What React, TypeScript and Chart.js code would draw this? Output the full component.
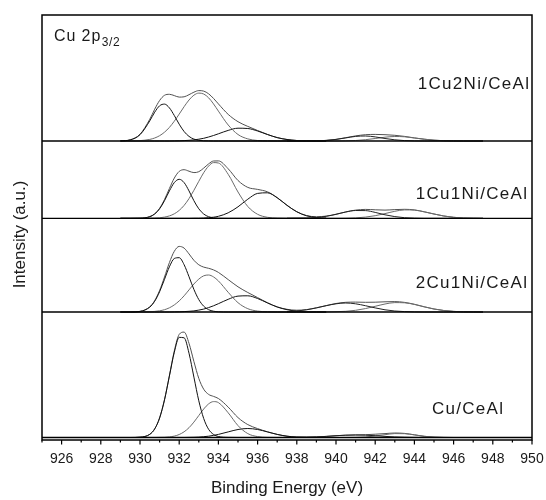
import React, { useEffect, useRef } from "react";
import { Chart, registerables } from "chart.js";

Chart.register(...registerables);

// ---------- data ----------
// binding-energy grids (eV)
const MAIN_E = [929, 929.5, 930, 930.5, 930.75, 931, 931.25, 931.5, 931.75, 932, 932.25, 932.5, 932.75, 933, 933.25, 933.5, 933.75, 934, 934.5, 935, 935.5, 936, 936.5, 937, 937.5, 938, 938.5, 939, 939.5];
const SAT_E = [937.5, 938, 938.5, 939, 939.5, 940, 940.5, 941, 941.5, 942, 942.5, 943, 943.5, 944, 944.5, 945, 945.5, 946, 946.5, 947, 947.5];
const ENV_E = [929, 929.5, 930, 930.5, 930.75, 931, 931.25, 931.5, 931.75, 932, 932.25, 932.5, 932.75, 933, 933.25, 933.5, 933.75, 934, 934.5, 935, 935.5, 936, 936.5, 937, 937.5, 938, 938.5, 939, 939.5, 940, 940.5, 941, 941.5, 942, 942.5, 943, 943.5, 944, 944.5, 945, 945.5, 946, 946.5, 947, 947.5];

// 1Cu2Ni/CeAl
const P1_A = [0.1, 1.1, 6.3, 20.2, 28.8, 35.2, 36.9, 33.1, 25.5, 16.8, 9.5, 4.6, 1.9, 0.7, 0.2, 0.1, 0, 0, 0, 0, 0, 0, 0, 0, 0, 0, 0, 0, 0];
const P1_B = [0, 0.1, 0.4, 1.6, 3.0, 5.3, 8.8, 13.6, 19.8, 26.9, 34.3, 41.0, 45.8, 47.9, 47.0, 43.2, 37.1, 29.9, 16.0, 6.5, 2.1, 0.5, 0.1, 0, 0, 0, 0, 0, 0];
const P1_C = [0, 0, 0, 0, 0, 0, 0, 0, 0.1, 0.2, 0.4, 0.7, 1.1, 1.8, 2.7, 4.0, 5.5, 7.2, 10.6, 12.8, 12.5, 10.0, 6.5, 3.4, 1.5, 0.5, 0.2, 0, 0];
const P1_S1 = [0, 0, 0, 0.2, 0.6, 1.6, 3.1, 4.6, 5.0, 4.1, 2.5, 1.2, 0.4, 0.1, 0, 0, 0, 0, 0, 0, 0];
const P1_S2 = [0, 0, 0, 0, 0, 0, 0.2, 0.5, 1.3, 2.5, 3.8, 4.5, 4.2, 3.0, 1.8, 0.8, 0.3, 0.1, 0, 0, 0];
const P1_ENV = [0.1, 1.2, 6.7, 21.8, 31.8, 40.5, 45.7, 46.7, 45.4, 43.9, 44.2, 46.3, 48.8, 50.4, 49.9, 47.2, 42.6, 37.1, 26.6, 19.3, 14.6, 10.5, 6.6, 3.4, 1.5, 0.5, 0.2, 0.2, 0.6, 1.6, 3.3, 5.1, 6.3, 6.6, 6.3, 5.7, 4.6, 3.1, 1.8, 0.8, 0.3, 0.1, 0, 0, 0];

// 1Cu1Ni/CeAl
const P2_A = [0, 0, 0.1, 1.6, 4.3, 9.5, 17.6, 27.4, 35.7, 39.0, 35.7, 27.4, 17.6, 9.5, 4.3, 1.6, 0.5, 0.1, 0, 0, 0, 0, 0, 0, 0, 0, 0, 0, 0];
const P2_B = [0, 0, 0, 0.1, 0.2, 0.5, 1.2, 2.4, 4.5, 7.9, 12.9, 19.7, 28.0, 37.0, 45.6, 52.2, 55.7, 55.3, 44.0, 26.3, 11.8, 4.0, 1.0, 0.2, 0, 0, 0, 0, 0];
const P2_C = [0, 0, 0, 0, 0, 0, 0, 0, 0, 0, 0, 0, 0.1, 0.1, 0.3, 0.6, 1.1, 2.0, 5.5, 11.5, 19.1, 24.9, 25.5, 20.5, 13.0, 6.5, 2.5, 0.8, 0.2];
const P2_S1 = [0, 0.1, 0.2, 0.8, 2.0, 4.0, 6.3, 7.8, 7.7, 5.9, 3.5, 1.7, 0.6, 0.2, 0, 0, 0, 0, 0, 0, 0];
const P2_S2 = [0, 0, 0, 0, 0, 0, 0.1, 0.4, 1.2, 2.6, 4.7, 7.0, 8.4, 8.2, 6.5, 4.3, 2.3, 1.0, 0.3, 0.1, 0];
const P2_ENV = [0, 0, 0.1, 1.7, 4.5, 10.0, 18.8, 29.8, 40.2, 46.9, 48.6, 47.1, 45.7, 46.6, 50.2, 54.4, 57.3, 57.4, 49.5, 37.8, 30.9, 28.9, 26.5, 20.7, 13.0, 6.6, 2.7, 1.6, 2.2, 4.0, 6.4, 8.2, 8.9, 8.5, 8.2, 8.7, 9.0, 8.4, 6.5, 4.3, 2.3, 1.0, 0.3, 0.1, 0];

// 2Cu1Ni/CeAl
const P3_A = [0, 0, 0.6, 4.9, 10.8, 20.3, 32.7, 45.2, 53.5, 54.3, 47.3, 35.3, 22.6, 12.4, 5.8, 2.3, 0.8, 0.2, 0, 0, 0, 0, 0, 0, 0, 0, 0, 0, 0];
const P3_B = [0, 0, 0, 0.3, 0.6, 1.2, 2.3, 4.2, 7.1, 11.1, 16.2, 22.1, 28.0, 32.9, 36.2, 37.0, 35.1, 31.1, 19.7, 9.3, 3.3, 0.9, 0.2, 0, 0, 0, 0, 0, 0];
const P3_C = [0, 0, 0, 0, 0, 0, 0, 0, 0.1, 0.2, 0.4, 0.7, 1.1, 1.9, 2.9, 4.4, 6.2, 8.3, 12.7, 15.9, 16.2, 13.5, 9.1, 5.0, 2.3, 0.8, 0.2, 0.1, 0];
const P3_S1 = [0.4, 1.0, 2.2, 4.1, 6.3, 8.2, 9.0, 8.2, 6.3, 4.1, 2.2, 1.0, 0.4, 0.1, 0, 0, 0, 0, 0, 0, 0];
const P3_S2 = [0, 0, 0, 0, 0.1, 0.3, 0.7, 1.7, 3.4, 5.7, 8.0, 9.4, 9.2, 7.6, 5.2, 3.0, 1.5, 0.6, 0.2, 0.1, 0];
const P3_ENV = [0, 0, 0.6, 5.2, 11.4, 21.5, 35.0, 49.4, 60.7, 65.6, 63.9, 58.1, 51.7, 47.2, 44.9, 43.7, 42.1, 39.6, 32.4, 25.2, 19.5, 14.4, 9.3, 5.1, 2.7, 1.8, 2.4, 4.2, 6.4, 8.5, 9.7, 9.9, 9.7, 9.8, 10.2, 10.4, 9.6, 7.7, 5.2, 3.0, 1.5, 0.6, 0.2, 0.1, 0];

// Cu/CeAl
const P4_A = [0, 0, 0.3, 3.2, 8.6, 19.5, 37.6, 61.4, 85.2, 100.1, 99.7, 84.3, 60.4, 36.7, 19.0, 8.2, 3.1, 1.0, 0.1, 0, 0, 0, 0, 0, 0, 0, 0, 0, 0];
const P4_B = [0, 0, 0, 0, 0, 0.1, 0.2, 0.6, 1.4, 3.0, 5.7, 9.8, 15.4, 22.0, 28.5, 33.6, 35.9, 34.9, 24.7, 11.9, 3.9, 0.9, 0.1, 0, 0, 0, 0, 0, 0];
const P4_C = [0, 0, 0, 0, 0, 0, 0, 0, 0, 0, 0, 0.1, 0.2, 0.4, 0.8, 1.3, 2.1, 3.1, 5.6, 8.0, 9.0, 8.0, 5.6, 3.1, 1.3, 0.4, 0.1, 0, 0];
const P4_S1 = [0, 0.1, 0.3, 0.6, 1.1, 1.8, 2.3, 2.5, 2.3, 1.8, 1.1, 0.6, 0.3, 0.1, 0, 0, 0, 0, 0, 0, 0];
const P4_S2 = [0, 0, 0, 0, 0, 0, 0, 0.1, 0.5, 1.5, 2.8, 3.9, 3.8, 2.6, 1.2, 0.4, 0.1, 0, 0, 0, 0];
const P4_ENV = [0, 0, 0.3, 3.2, 8.6, 19.6, 37.8, 62.0, 86.6, 103.1, 105.4, 94.2, 76.0, 59.1, 48.3, 43.1, 41.1, 39.0, 30.4, 19.9, 12.9, 8.9, 5.7, 3.1, 1.3, 0.5, 0.4, 0.6, 1.1, 1.8, 2.3, 2.6, 2.8, 3.3, 3.9, 4.5, 4.1, 2.7, 1.2, 0.4, 0.1, 0, 0, 0, 0];

const SAMPLE_NAMES = ["1Cu2Ni/CeAl", "1Cu1Ni/CeAl", "2Cu1Ni/CeAl", "Cu/CeAl"];
const OFFSETS = [299, 221.7, 128, 2.5];
const X_TICKS = [926, 928, 930, 932, 934, 936, 938, 940, 942, 944, 946, 948, 950];
const X_MIN = 925;
const X_MAX = 950;
const Y_MAX = 425;
const X_TITLE = "Binding Energy (eV)";
const Y_TITLE = "Intensity (a.u.)";

const PANELS = [
  { main: [P1_A, P1_B, P1_C], sat: [P1_S1, P1_S2], env: P1_ENV },
  { main: [P2_A, P2_B, P2_C], sat: [P2_S1, P2_S2], env: P2_ENV },
  { main: [P3_A, P3_B, P3_C], sat: [P3_S1, P3_S2], env: P3_ENV },
  { main: [P4_A, P4_B, P4_C], sat: [P4_S1, P4_S2], env: P4_ENV },
];

// ---------- styling / layout ----------
const FONT = '"Liberation Sans", Arial, Helvetica, sans-serif';
const MAIN_COLORS = ["#111111", "#6a6a6a", "#111111"];
const SAT_COLORS = ["#222222", "#6a6a6a"];
const ENV_COLOR = "#505050";
const LABEL_POS = [
  { right: 529, y: 84 },
  { right: 527, y: 194 },
  { right: 527, y: 283 },
  { right: 503, y: 409 },
];

function pts(xs: number[], ys: number[], off: number) {
  return xs.map((x, i) => ({ x, y: ys[i] + off }));
}

function drawSpaced(ctx: CanvasRenderingContext2D, text: string, x: number, y: number, spacing: number) {
  (ctx as any).letterSpacing = spacing + "px";
  ctx.fillText(text, x, y);
  (ctx as any).letterSpacing = "0px";
}

const decorPlugin = {
  id: "decor",
  afterDraw(chart: any) {
    const { ctx, chartArea: a } = chart;
    const xs = chart.scales.x;
    ctx.save();
    // frame
    ctx.strokeStyle = "#000";
    ctx.lineWidth = 1.5;
    ctx.strokeRect(a.left, a.top, a.right - a.left, a.bottom - a.top);
    // ticks (outward)
    ctx.lineWidth = 1.2;
    ctx.beginPath();
    for (let v = X_MIN; v <= X_MAX; v += 1) {
      const px = xs.getPixelForValue(v);
      const len = v % 2 === 0 ? 4.5 : 2.5;
      ctx.moveTo(px, a.bottom);
      ctx.lineTo(px, a.bottom + len);
    }
    ctx.stroke();
    ctx.fillStyle = "#1a1a1a";
    // tick labels
    ctx.font = "14px " + FONT;
    ctx.textAlign = "center";
    ctx.textBaseline = "middle";
    X_TICKS.forEach((t) => ctx.fillText(String(t), xs.getPixelForValue(t), a.bottom + 19));
    // x title
    ctx.font = "17px " + FONT;
    ctx.fillText(X_TITLE, (a.left + a.right) / 2, a.bottom + 48);
    // y title
    ctx.save();
    ctx.translate(20, (a.top + a.bottom) / 2 + 7);
    ctx.rotate(-Math.PI / 2);
    ctx.fillText(Y_TITLE, 0, 0);
    ctx.restore();
    // sample labels
    ctx.textAlign = "right";
    ctx.font = "17px " + FONT;
    SAMPLE_NAMES.forEach((name, i) => {
      const p = LABEL_POS[i];
      drawSpaced(ctx, name, p.right + 1.3, p.y, 1.3);
    });
    // Cu 2p3/2
    ctx.textAlign = "left";
    ctx.textBaseline = "alphabetic";
    ctx.font = "16px " + FONT;
    (ctx as any).letterSpacing = "0.9px";
    const main = "Cu 2p";
    ctx.fillText(main, 54, 41);
    const w = ctx.measureText(main).width;
    ctx.font = "12px " + FONT;
    (ctx as any).letterSpacing = "0.6px";
    ctx.fillText("3/2", 54 + w + 0.5, 46);
    (ctx as any).letterSpacing = "0px";
    ctx.restore();
  },
};

export default function App() {
  const ref = useRef<HTMLCanvasElement | null>(null);

  useEffect(() => {
    if (!ref.current) return;
    const datasets: any[] = [];
    PANELS.forEach((p, i) => {
      const off = OFFSETS[i];
      datasets.push({
        data: [{ x: X_MIN, y: off }, { x: X_MAX, y: off }],
        borderColor: "#000",
        borderWidth: 1.3,
        tension: 0,
      });
      p.main.forEach((ys, k) =>
        datasets.push({ data: pts(MAIN_E, ys, off), borderColor: MAIN_COLORS[k], borderWidth: 1 })
      );
      p.sat.forEach((ys, k) =>
        datasets.push({ data: pts(SAT_E, ys, off), borderColor: SAT_COLORS[k], borderWidth: 1 })
      );
      datasets.push({ data: pts(ENV_E, p.env, off), borderColor: ENV_COLOR, borderWidth: 1 });
    });
    datasets.forEach((d) => {
      d.pointRadius = 0;
      d.fill = false;
      d.cubicInterpolationMode = "monotone";
    });

    const chart = new Chart(ref.current, {
      type: "line",
      data: { datasets },
      options: {
        animation: false,
        responsive: false,
        parsing: true,
        layout: { padding: { left: 42, top: 15, right: 14, bottom: 60 } },
        plugins: { legend: { display: false }, tooltip: { enabled: false } },
        scales: {
          x: { type: "linear", min: X_MIN, max: X_MAX, display: false },
          y: { type: "linear", min: 0, max: Y_MAX, display: false },
        },
      },
      plugins: [decorPlugin],
    });
    return () => chart.destroy();
  }, []);

  return (
    <div style={{ position: "absolute", left: 0, top: 0, width: 546, height: 500, background: "#fff" }}>
      <canvas ref={ref} width={546} height={500} style={{ display: "block" }} />
    </div>
  );
}
